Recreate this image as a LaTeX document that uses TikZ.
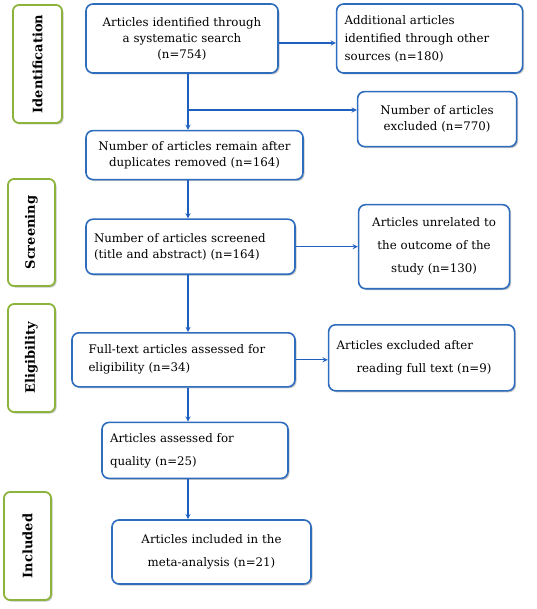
\documentclass[tikz,border=0pt]{standalone}
\usepackage{fontspec}
\setmainfont{DejaVu Serif}
\usetikzlibrary{shapes.geometric, arrows, positioning, shadows}
\definecolor{boxblue}{RGB}{46,108,190}
\definecolor{lineblue}{RGB}{30,96,192}
\definecolor{phasegreen}{RGB}{140,180,60}
\tikzstyle{stage} = [rectangle, rounded corners=7pt, draw=boxblue, line width=1.6pt, fill=white, inner xsep=8pt, inner ysep=3pt, drop shadow={opacity=0.45, shadow xshift=1.5pt, shadow yshift=-1.5pt}, font=\fontsize{11.8}{16}\selectfont]
\tikzstyle{phase} = [rectangle, rounded corners=6pt, draw=phasegreen, line width=1.8pt, fill=white, rotate=90, drop shadow={opacity=0.45, shadow xshift=1.5pt, shadow yshift=-1.5pt}, font=\fontsize{13}{15}\selectfont\bfseries]
\tikzstyle{arrow} = [line width=1.3pt, ->, >=stealth, draw=lineblue]

\begin{document}
\begin{tikzpicture}[x=1pt, y=-1pt]
    \useasboundingbox (0,0) rectangle (536,609);

    % phases
    \node (identification) [phase, minimum width=118pt, minimum height=49pt] at (37.5,64) {Identification};
    \node (screening) [phase, minimum width=107pt, minimum height=47pt] at (31.5,232.5) {Screening};
    \node (eligibility) [phase, minimum width=108pt, minimum height=47pt] at (31.5,358) {Eligibility};
    \node (included) [phase, minimum width=108pt, minimum height=47pt] at (27.5,546) {Included};

    % flow
    \node (search) [stage, minimum width=192pt, minimum height=69pt, text width=176pt, align=center] at (182,38.5) {Articles identified through\\ a systematic search\\ (n=754)};
    \node (other) [stage, right=57pt of search, minimum width=186pt, minimum height=69pt, text width=170pt, align=left] {Additional articles\\[2pt] identified through other\\[2pt] sources (n=180)};
    \node (excluded) [stage, below=17pt of other, xshift=7.5pt, minimum width=159pt, minimum height=55pt, text width=143pt, align=center] {Number of articles\\ excluded (n=770)};
    \node (duplicates) [stage, below=56pt of search, xshift=12.5pt, minimum width=217pt, minimum height=49pt, text width=201pt, align=center] {Number of articles remain after\\ duplicates removed (n=164)};
    \node (screened) [stage, below=38pt of duplicates, xshift=-4pt, minimum width=209pt, minimum height=55pt, text width=193pt, align=left] {Number of articles screened\\ (title and abstract) (n=164)};
    \node (unrelated) [stage, right=62pt of screened, minimum width=151pt, minimum height=84pt, text width=135pt, align=center] {Articles unrelated to\\[7pt] the outcome of the\\[7pt] study (n=130)};
    \node (fulltext) [stage, below=57pt of screened, xshift=-7pt, minimum width=223pt, minimum height=54pt, text width=190pt, align=left] {\makebox[182pt][s]{Full-text articles assessed for}\\[2pt] eligibility (n=34)};
    \node (notfull) [stage, right=32pt of fulltext, yshift=2pt, minimum width=186pt, minimum height=66pt, text width=170pt, align=left] {Articles excluded after\\[7pt] \hspace*{20pt}reading full text (n=9)};
    \node (quality) [stage, below=34pt of fulltext, xshift=11.5pt, minimum width=186pt, minimum height=56pt, text width=170pt, align=left] {Articles assessed for\\[7pt] quality (n=25)};
    \node (meta) [stage, below=40pt of quality, xshift=16.5pt, minimum width=199pt, minimum height=64pt, text width=183pt, align=center] {Articles included in the\\[7pt] meta-analysis (n=21)};

    \coordinate (spine) at (188,0);
    \coordinate (split) at (188,110);

    \draw [arrow] ([yshift=-4.5pt]search.east) -- ([yshift=-4.5pt]other.west);
    \draw [arrow] (search.south -| spine) -- (duplicates.north -| spine);
    \draw [arrow] (split) -- (split -| excluded.west);
    \draw [arrow] (duplicates.south -| spine) -- (screened.north -| spine);
    \draw [arrow] (screened.east) -- (screened.east -| unrelated.west);
    \draw [arrow] (screened.south -| spine) -- (fulltext.north -| spine);
    \draw [arrow] (fulltext.east) -- (fulltext.east -| notfull.west);
    \draw [arrow] (fulltext.south -| spine) -- (quality.north -| spine);
    \draw [arrow] (quality.south -| spine) -- (meta.north -| spine);
\end{tikzpicture}
\end{document}
